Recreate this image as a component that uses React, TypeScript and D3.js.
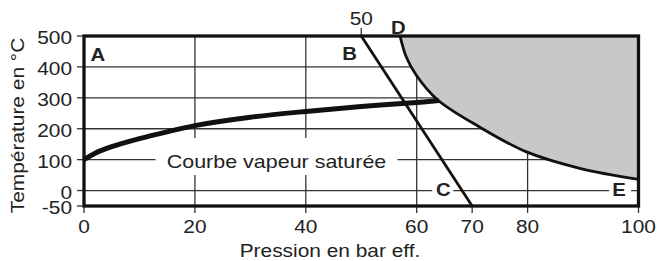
import * as d3 from 'd3';

// axis ticks
const pressureTicks = [0, 20, 40, 60, 70, 80, 100];
const tempTicks = [-50, 0, 100, 200, 300, 400, 500];
const gridPressure = [20, 40, 60, 80];
const gridTemp = [0, 100, 200, 300, 400];
const topTickPressure = 50;

// saturated steam curve (bar eff. -> °C)
const satPressure = [0, 2, 5, 10, 15, 20, 30, 40, 50, 60, 64];
const satTemp = [100, 121, 142, 168, 190, 210, 237, 256, 272, 285, 291];

// limit curve D-E (grey zone above it)
const limPressure = [57, 58.1, 59.9, 63.8, 71.4, 79.8, 89.4, 100];
const limTemp = [500, 433, 374, 293, 205, 125, 72, 36];

// straight line B-C
const bcPressure = [50, 70];
const bcTemp = [500, -50];

const letters = ['A', 'B', 'C', 'D', 'E'];
const letterPressure = [2.5, 47.9, 64.8, 56.7, 96.5];
const letterTemp = [419, 422, -18, 508, -18];

const W = 657;
const H = 261;
const FONT = '"Liberation Sans", Arial, sans-serif';
const SX = 1.13;

const x = d3.scaleLinear().domain([0, 100]).range([84, 638.5]);
const y = d3.scaleLinear().domain([-50, 500]).range([206, 36]);

function Txt({ x, y, size = 18.5, anchor = 'middle', weight = 'normal', rotate = 0, sx = SX, children }: any) {
  return (
    <text
      transform={`translate(${x},${y}) rotate(${rotate}) scale(${sx},1)`}
      fontSize={size}
      fontFamily={FONT}
      fontWeight={weight}
      textAnchor={anchor}
      fill="#222"
    >
      {children}
    </text>
  );
}

export default function App() {
  const sat = satPressure.map((p, i) => [p, satTemp[i]] as [number, number]);
  const lim = limPressure.map((p, i) => [p, limTemp[i]] as [number, number]);
  const bc = bcPressure.map((p, i) => [p, bcTemp[i]] as [number, number]);

  const line = d3.line<[number, number]>()
    .x(d => x(d[0]))
    .y(d => y(d[1]))
    .curve(d3.curveCatmullRom.alpha(0.5));

  const area = d3.area<[number, number]>()
    .x(d => x(d[0]))
    .y0(y(500))
    .y1(d => y(d[1]))
    .curve(d3.curveCatmullRom.alpha(0.5));

  const [x0, x1] = x.range();
  const [yb, yt] = y.range();

  const courbeX = 276.5;
  const courbeY = y(100) + 8;

  return (
    <svg width={W} height={H} style={{ position: 'absolute', left: 0, top: 0, background: '#fff' }}>
      {/* grid */}
      {gridTemp.map(t => (
        <line key={'h' + t} x1={x0} x2={x1} y1={y(t)} y2={y(t)} stroke="#333" strokeWidth={1.3} />
      ))}
      {gridPressure.map(p => (
        <line key={'v' + p} x1={x(p)} x2={x(p)} y1={yt} y2={yb} stroke="#333" strokeWidth={1.3} />
      ))}

      {/* grey zone */}
      <path d={area(lim) || ''} fill="#c8c8ca" />

      {/* label knockouts */}
      <rect x={courbeX - 121} y={138} width={242} height={37} fill="#fff" />
      <rect x={x(letterPressure[2]) - 11} y={y(0) - 6} width={21} height={12} fill="#fff" />
      <rect x={x(letterPressure[4]) - 10} y={y(0) - 6} width={22} height={12} fill="#fff" />

      {/* ticks */}
      {pressureTicks.map(p => (
        <line key={'xt' + p} x1={x(p)} x2={x(p)} y1={yb} y2={yb + 7} stroke="#333" strokeWidth={1.3} />
      ))}
      {tempTicks.map(t => (
        <line key={'yt' + t} x1={x0 - 7} x2={x0} y1={y(t)} y2={y(t)} stroke="#333" strokeWidth={1.3} />
      ))}
      <line x1={x(topTickPressure)} x2={x(topTickPressure)} y1={yt - 8} y2={yt} stroke="#333" strokeWidth={1.3} />

      {/* curves */}
      <path d={line(lim) || ''} fill="none" stroke="#111" strokeWidth={2.8} />
      <path d={line(bc) || ''} fill="none" stroke="#111" strokeWidth={2.8} />
      <path d={line(sat) || ''} fill="none" stroke="#111" strokeWidth={5} />

      {/* frame */}
      <rect x={x0} y={yt} width={x1 - x0} height={yb - yt} fill="none" stroke="#111" strokeWidth={3.3} />

      {/* tick labels */}
      {pressureTicks.map(p => (
        <Txt key={'xl' + p} x={x(p)} y={233}>{p}</Txt>
      ))}
      {tempTicks.map(t => (
        <Txt key={'yl' + t} x={72} y={y(t) + 8} anchor="end">{t}</Txt>
      ))}
      <Txt x={x(topTickPressure)} y={25}>{topTickPressure}</Txt>

      {/* letters */}
      {letters.map((l, i) => (
        <Txt key={l} x={x(letterPressure[i])} y={y(letterTemp[i])} weight="bold" size={18}>{l}</Txt>
      ))}

      <Txt x={courbeX} y={courbeY} size={19}>Courbe vapeur saturée</Txt>

      {/* axis titles */}
      <Txt x={330} y={257}>Pression en bar eff.</Txt>
      <Txt x={23.5} y={125.5} rotate={-90}>Température en °C</Txt>
    </svg>
  );
}
